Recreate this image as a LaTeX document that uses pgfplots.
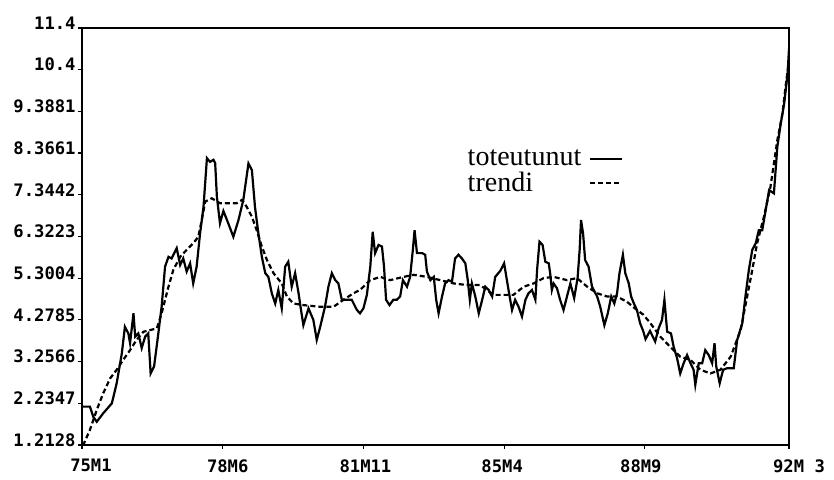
\documentclass[border=0pt]{standalone}
\usepackage{pgfplots}
\pgfplotsset{compat=1.18}
\usepackage{fontspec}
\setmainfont{Liberation Serif}
\setmonofont{DejaVu Sans Mono}
\newcommand\tl{\ttfamily\bfseries\fontsize{8.6}{9}\selectfont}
\begin{document}
\begin{tikzpicture}
\path[use as bounding box] (0,0) rectangle (417pt,240pt);
\begin{axis}[
  at={(41pt,17.5pt)}, anchor=south west,
  scale only axis, width=353.5pt, height=208.5pt,
  xmin=0, xmax=206, ymin=1.2128, ymax=11.4,
  xtick={0,41,82,123,164,206},
  xticklabels={\hspace*{9pt}75M1,\hspace*{5pt}78M6,\hspace*{2pt}81M11,85M4\hspace*{2pt},88M9\hspace*{4pt},\hspace*{10pt}92M 3},
  ytick={1.2128,2.23152,3.25024,4.26896,5.28768,6.3064,7.32512,8.34384,9.36256,10.38128,11.4},
  yticklabels={1.2128,2.2347,3.2566,4.2785,5.3004,6.3223,7.3442,8.3661,9.3881,10.4,11.4},
  yticklabel style={font=\tl, anchor=east, inner sep=1pt, yshift=2.5pt},
  xticklabel style={font=\tl, anchor=north, inner sep=0pt, yshift=-5pt},
  tick pos=left, tick align=outside, major tick length=2pt,
  tick style={line width=0.6pt, black},
  axis line style={line width=1.2pt},
  legend plot pos=right,
  legend cell align=left,
  legend style={draw=none, fill=none, at={(0.545,0.71)}, anchor=north west,
    font=\fontsize{14}{14}\selectfont, inner sep=0pt, row sep=2pt,
    nodes={inner sep=0pt}},
  legend image code/.code={\path (0pt,0pt); \draw[#1] (4pt,0pt) -- (20pt,0pt);},
]
\addplot[black, line width=1.1pt] coordinates {
(0,2.15) (2.3,2.15) (3.3,1.90) (4.3,1.78) (6.2,1.99) (8.7,2.23) (10.1,2.72) (11.6,3.45)
(12.5,4.10) (13.5,3.94) (14,3.70) (15,4.43) (15.5,3.86) (16.4,3.94) (17.4,3.58) (18.4,3.86)
(19.3,3.94) (20,2.96) (21,3.13) (22,3.78) (23.2,4.59) (24.2,5.57) (25.2,5.81) (26.1,5.77)
(27.6,6.02) (28.6,5.61) (29.5,5.77) (30.5,5.45) (31.5,5.65) (32.4,5.16) (33.4,5.57) (34.4,6.38)
(35.4,7.03) (36.4,8.22) (37.3,8.13) (38.3,8.18) (38.8,8.10) (39.3,7.28) (40.2,6.63) (41.2,6.93)
(42.7,6.61) (44.1,6.30) (45.6,6.71) (47,7.20) (48.5,8.09) (49.5,7.93) (50.4,7.03) (51.4,6.38)
(52.4,5.81) (53.4,5.41) (54.3,5.32) (55.3,4.92) (56.3,4.67) (57.2,5.00) (58.2,4.55) (59.2,5.57)
(60.1,5.69) (61.1,5.08) (62.1,5.41) (63.1,4.92) (63.6,4.63) (64.5,4.14) (66,4.55) (67.4,4.27)
(68.4,3.78) (69.4,4.10) (70.8,4.59) (71.8,5.08) (72.8,5.41) (73.8,5.24) (74.7,5.16) (75.7,4.76)
(77.2,4.76) (78.6,4.76) (80.1,4.51) (81,4.43) (82,4.55) (83,4.88) (84,5.57) (84.7,6.42)
(85.4,5.90) (86.4,6.10) (87.4,6.06) (88,5.57) (88.6,4.76) (89.6,4.63) (90.7,4.76) (91.7,4.76)
(92.7,4.84) (93.5,5.24) (94.7,5.08) (95.6,5.32) (96.4,5.98) (96.9,6.46) (97.6,5.90) (99.1,5.90)
(100,5.86) (100.5,5.45) (101.5,5.24) (102.5,5.32) (103.2,4.76) (103.9,4.43) (104.9,4.84) (105.8,5.16)
(106.8,5.24) (107.8,5.20) (108.7,5.77) (109.7,5.86) (110.7,5.77) (111.7,5.65) (112.4,5.24) (113,4.76)
(113.6,5.16) (114.6,4.84) (115.6,4.43) (116.6,4.76) (117.5,5.08) (118.5,5.00) (119.5,4.84) (120.4,5.32)
(121.9,5.47) (123,5.65) (123.8,5.24) (124.6,4.84) (125.3,4.51) (126.2,4.76) (127.2,4.59) (128.2,4.35)
(129.2,4.76) (130.1,4.92) (131.1,5.00) (132.1,4.76) (132.6,5.49) (133.3,6.18) (134.2,6.10) (135,5.69)
(136,5.65) (136.4,5.41) (136.9,5.00) (137.4,5.16) (138.4,5.04) (139.3,4.76) (140.3,4.51) (141.3,4.84)
(142.3,5.16) (143.4,4.80) (144.4,5.29) (145,5.98) (145.4,6.71) (146,6.38) (146.6,5.73) (147.6,5.57)
(148.6,5.08) (150.1,4.84) (151,4.59) (152.2,4.14) (153.2,4.43) (154.2,4.84) (155.1,4.67) (155.9,4.92)
(156.6,5.41) (157.6,5.86) (158.3,5.41) (159.3,5.16) (160,4.84) (160.8,4.67) (161.7,4.51) (162.6,4.19)
(163.5,4.00) (164.2,3.80) (165.5,4.00) (167,3.74) (168,4.06) (169,4.27) (169.7,4.76) (170.5,3.98)
(171.6,3.94) (172.4,3.61) (173.4,3.33) (174.3,2.96) (175.3,3.21) (176.3,3.41) (177.3,3.21) (178.2,3.05)
(178.7,2.68) (179.7,3.21) (180.7,3.21) (181.6,3.53) (182.6,3.41) (183.6,3.21) (184.3,3.70) (184.8,3.13)
(185.8,2.72) (186.8,3.05) (188,3.09) (189.9,3.09) (190.9,3.78) (192.4,4.19) (193.3,4.84) (194.3,5.49)
(195.3,5.98) (196.3,6.14) (197.2,6.46) (198.2,6.46) (199.2,6.95) (200.2,7.44) (201.6,7.36) (202.6,8.50)
(203.6,9.07) (204.6,9.56) (205.6,10.29) (206,10.9)
};
\addlegendentry{toteutunut}
\addplot[black, line width=1.1pt, dash pattern=on 2.5pt off 1.5pt] coordinates {
(0.3,1.2) (2.3,1.58) (4.3,2.07) (6.2,2.48) (8.2,2.84) (10.1,3.05) (12,3.29) (14,3.53)
(15.9,3.78) (17.9,3.98) (19.8,4.02) (21.8,4.06) (23.2,4.43) (24.2,4.76) (25.2,5.08) (26.6,5.49)
(28.6,5.81) (30.5,5.98) (32.4,6.14) (33.9,6.30) (34.9,6.71) (35.9,7.16) (37.8,7.24) (40.2,7.12)
(45.1,7.12) (46.6,7.20) (48,7.03) (49.5,6.79) (50.9,6.46) (52.4,6.06) (53.9,5.73) (55.8,5.41)
(58.2,5.16) (59.7,4.84) (61.6,4.67) (64.5,4.63) (69.4,4.59) (73.3,4.59) (76.2,4.76) (79.1,4.92)
(81,5.00) (84,5.24) (86.9,5.32) (89.8,5.24) (93.7,5.32) (96.6,5.37) (100.5,5.32) (104.4,5.24)
(108.3,5.16) (112.1,5.12) (116,5.12) (119.9,4.88) (125.7,4.88) (128.7,5.08) (131.6,5.16) (134.5,5.29)
(137.4,5.32) (141.3,5.24) (144.2,5.29) (147.2,5.08) (150.1,4.92) (153,4.84) (155.9,4.84) (158.8,4.71)
(161.7,4.51) (163.5,4.40) (165.6,4.19) (168.5,3.86) (171.4,3.61) (174.3,3.37) (177.3,3.29) (180.2,3.05)
(183.1,2.96) (186,3.05) (189,3.37) (191.9,4.02) (193.8,4.84) (195.3,5.49) (196.7,6.14) (198.7,6.79)
(200.6,7.52) (201.6,8.09) (202.6,8.66) (204.1,9.31) (205,9.97) (206,10.62)
};
\addlegendentry{trendi}
\end{axis}
\end{tikzpicture}
\end{document}
